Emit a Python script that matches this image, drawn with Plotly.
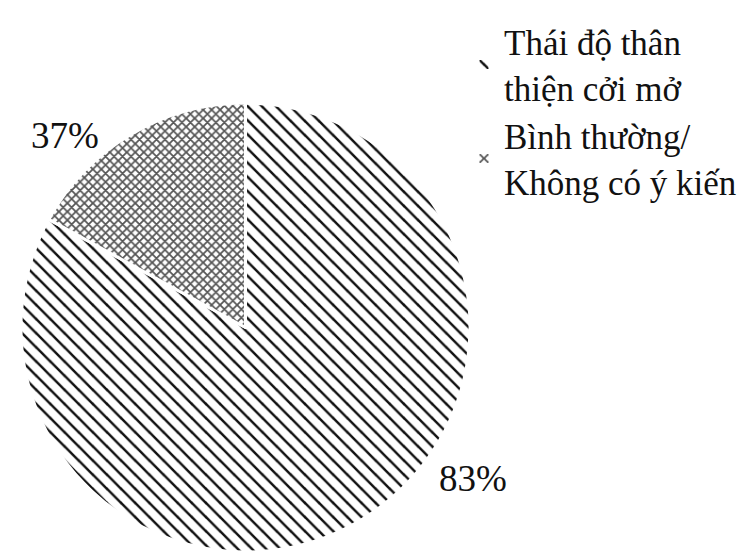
import plotly.graph_objects as go

labels = ["Thái độ thân<br>thiện cởi mở", "Bình thường/<br>Không có ý kiến"]
values = [83, 17]
text_labels = ["83%", "37%"]

fig = go.Figure()
fig.add_trace(go.Pie(
    labels=labels,
    values=values,
    sort=False,
    direction="clockwise",
    rotation=0,
    textinfo="none",
    hoverinfo="label+percent",
    marker=dict(
        colors=["white", "white"],
        line=dict(color="white", width=3),
        pattern=dict(
            shape=["\\", "x"],
            fgcolor=["#111111", "#555555"],
            bgcolor=["white", "white"],
            size=[10, 6],
            solidity=[0.25, 0.5],
        ),
    ),
    domain=dict(x=[13/755, 462/755], y=[1 - 544/553, 1 - 95/553]),
))

ann_pos = [(465/755, 1 - 470/553), (57/755, 1 - 127/553)]
for t, (x, y) in zip(text_labels, ann_pos):
    fig.add_annotation(x=x, y=y, xref="paper", yref="paper", text=t,
                       xanchor="center", yanchor="middle",
                       showarrow=False,
                       font=dict(family="Liberation Serif", size=37, color="#111111"))

fig.update_layout(
    width=755, height=553,
    margin=dict(l=0, r=0, t=0, b=0, autoexpand=False),
    paper_bgcolor="white",
    plot_bgcolor="white",
    font=dict(family="Liberation Serif", size=35, color="#111111"),
    legend=dict(x=456/755, y=0.992, xanchor="left", yanchor="top",
                itemwidth=30, bgcolor="rgba(0,0,0,0)",
                font=dict(family="Liberation Serif", size=35, color="#111111")),
)

fig.write_html("out.html")
